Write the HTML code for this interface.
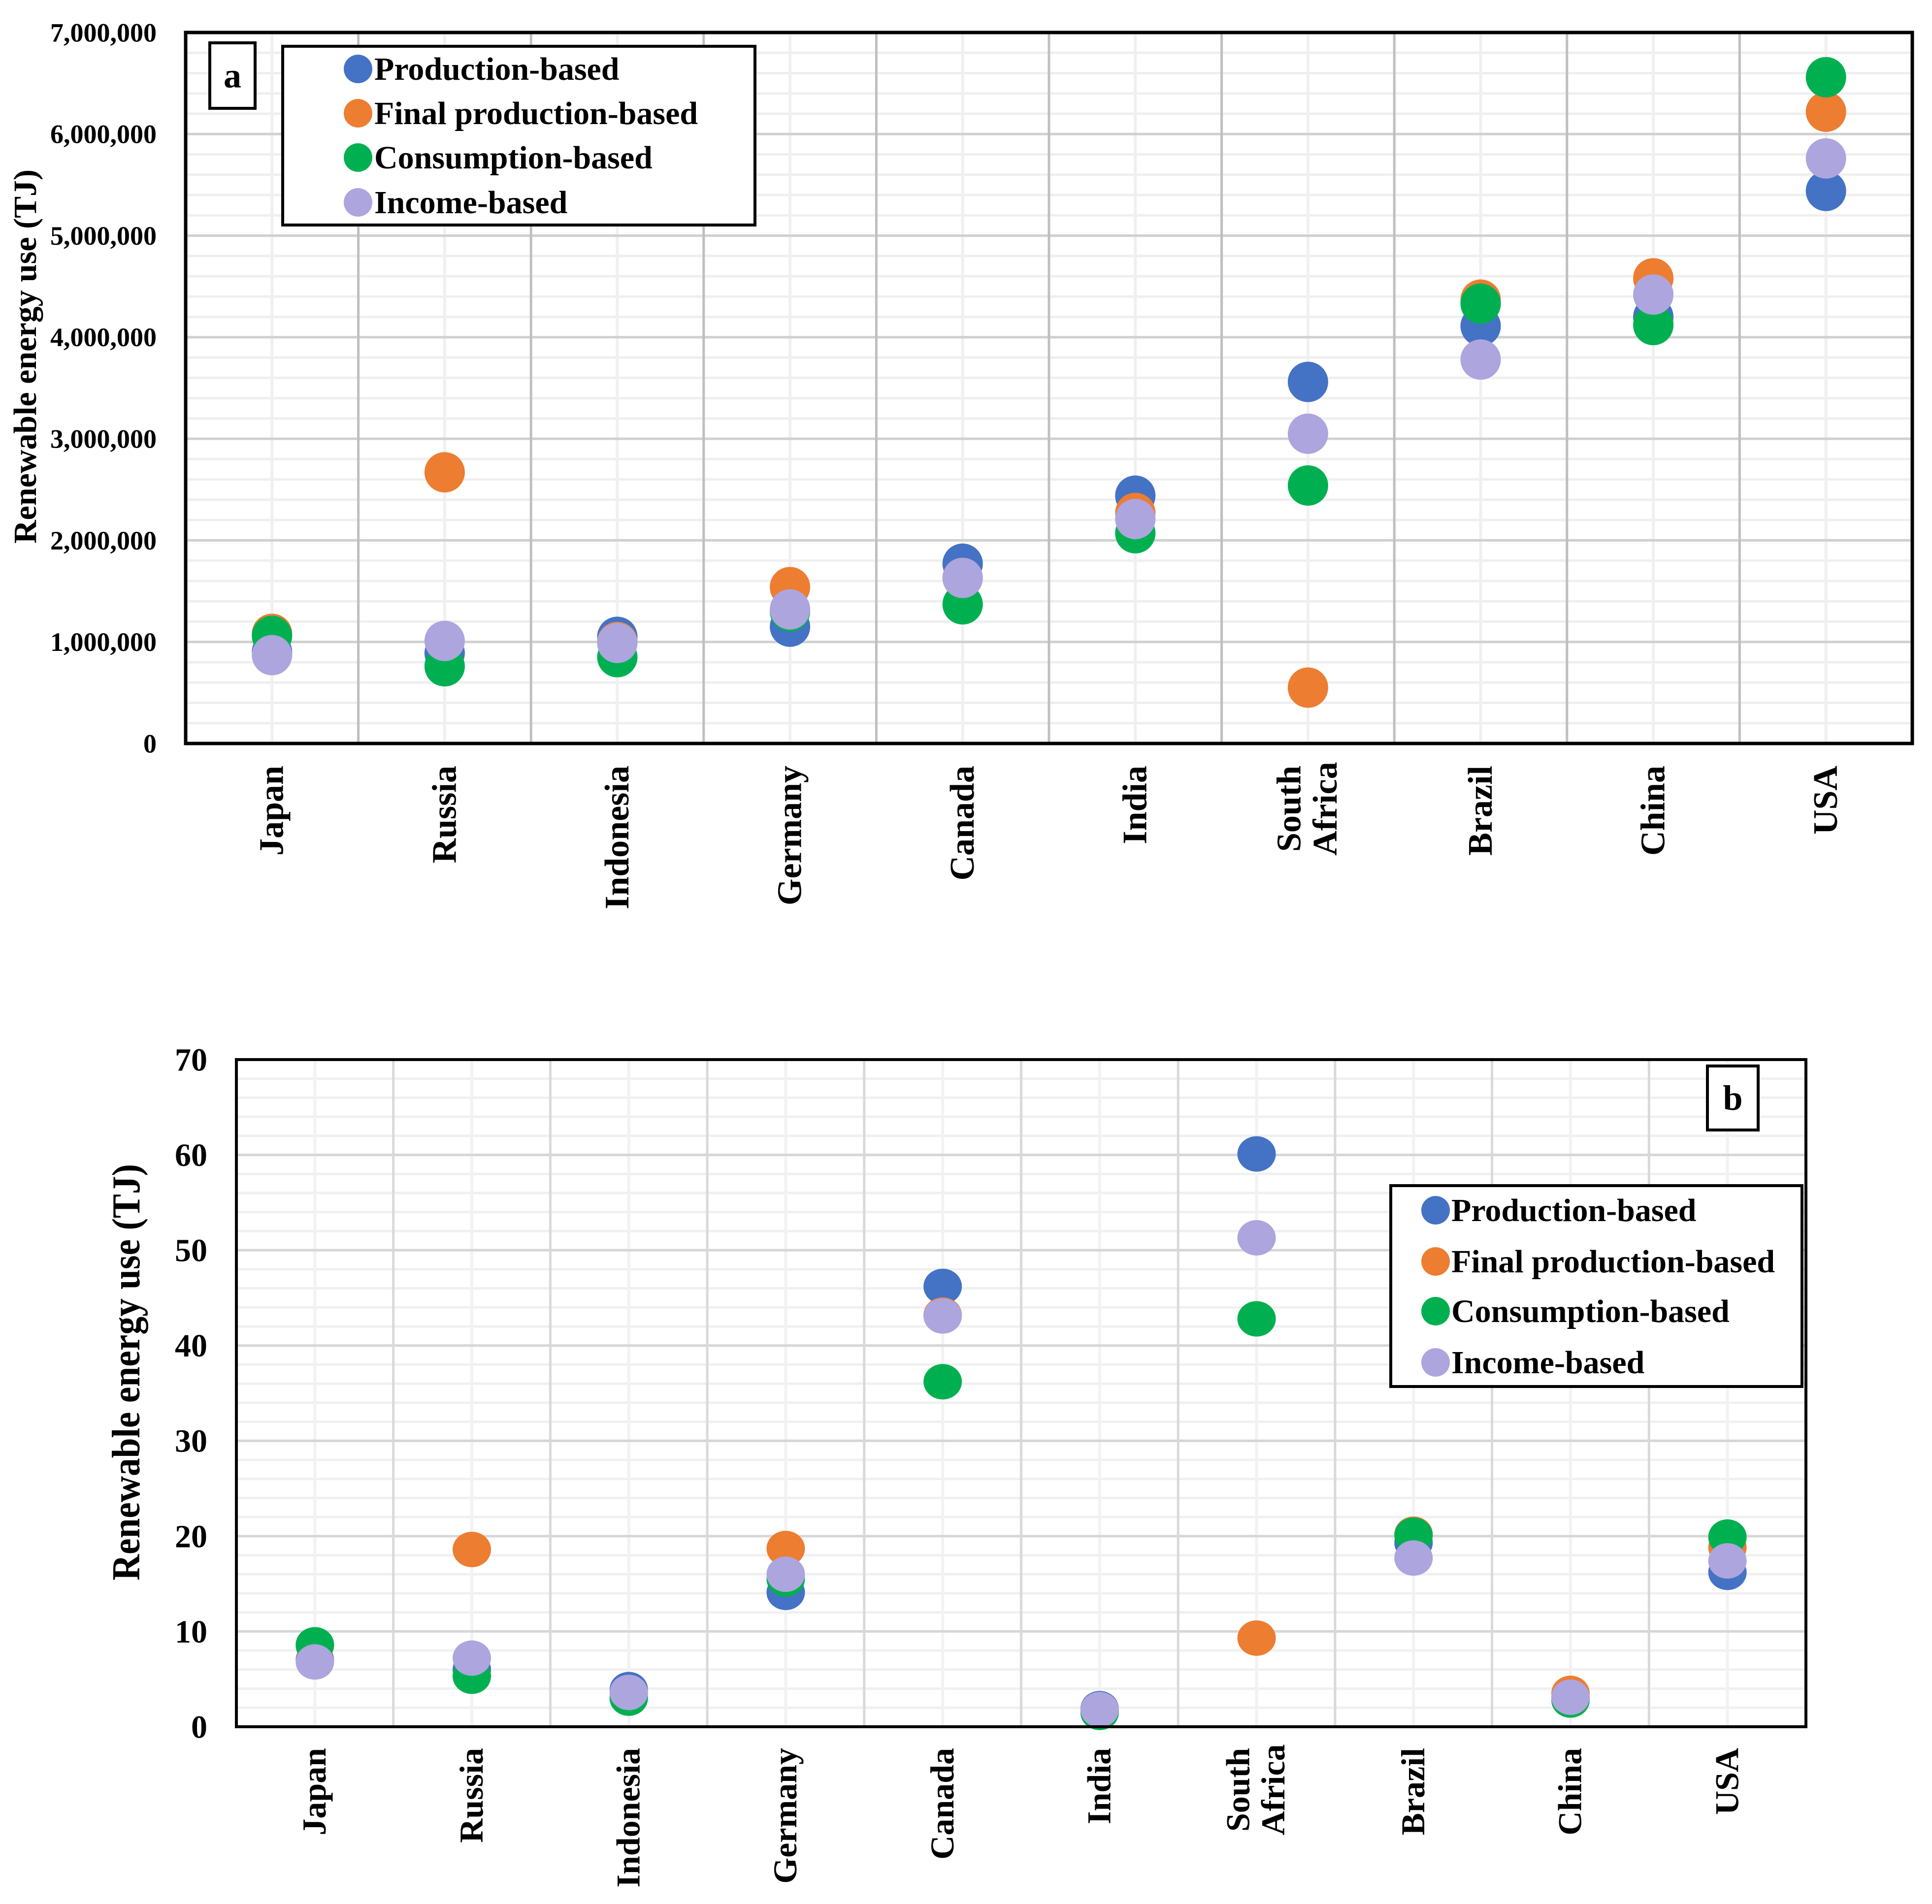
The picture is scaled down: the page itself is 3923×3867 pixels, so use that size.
<!DOCTYPE html>
<html><head><meta charset="utf-8"><style>
html,body{margin:0;padding:0;background:#fff}
svg{display:block}
text{font-family:"Liberation Serif","Times New Roman",serif;font-weight:bold;fill:#000}
</style></head><body>
<svg id="fig" xmlns="http://www.w3.org/2000/svg" width="3923" height="3867" viewBox="0 0 3923 3867">
<rect x="0" y="0" width="3923" height="3867" fill="#fff"/>
<g id="chartA"></g>
<g id="chartB"></g>
</svg>
<script>
const categories = ["Japan","Russia","Indonesia","Germany","Canada","India","South Africa","Brazil","China","USA"];
const seriesNames = ["Production-based","Final production-based","Consumption-based","Income-based"];
const seriesColors = ["#4472C4","#ED7D31","#00B050","#ADA5DE"];
// Chart a values (TJ)
const aProduction = [900000,890000,1050000,1150000,1770000,2440000,3560000,4110000,4200000,5440000];
const aFinalProduction = [1080000,2670000,1000000,1540000,1630000,2270000,550000,4370000,4580000,6220000];
const aConsumption = [1060000,760000,850000,1300000,1370000,2070000,2540000,4330000,4120000,6560000];
const aIncome = [870000,1010000,990000,1320000,1630000,2210000,3050000,3780000,4420000,5760000];
const aTicks = [0,1000000,2000000,3000000,4000000,5000000,6000000,7000000];
const aTickLabels = ["0","1,000,000","2,000,000","3,000,000","4,000,000","5,000,000","6,000,000","7,000,000"];
// Chart b values
const bProduction = [7.0,6.0,3.9,14.1,46.2,1.9,60.1,19.3,3.0,16.2];
const bFinalProduction = [8.5,18.6,3.5,18.7,43.2,1.7,9.3,20.2,3.5,18.8];
const bConsumption = [8.6,5.3,3.0,15.5,36.2,1.5,42.8,20.1,2.8,19.9];
const bIncome = [6.8,7.2,3.6,16.0,43.1,1.8,51.3,17.7,3.1,17.4];
const bTicks = [0,10,20,30,40,50,60,70];
const bTickLabels = ["0","10","20","30","40","50","60","70"];

const NS="http://www.w3.org/2000/svg";
function mk(parent,tag,attrs,txt){const e=document.createElementNS(NS,tag);for(const k in attrs)e.setAttribute(k,attrs[k]);if(txt!==undefined)e.textContent=txt;parent.appendChild(e);return e;}

function drawChart(g,cfg){
  const L=cfg.left,R=cfg.right,T=cfg.top,B=cfg.bottom,n=categories.length,cw=(R-L)/n;
  const xC=i=>L+cw*(i+0.5);
  const yS=v=>B-(v-cfg.min)/(cfg.max-cfg.min)*(B-T);
  for(let v=cfg.min;v<=cfg.max+1e-9;v+=cfg.minorStep){
    const ln=mk(g,'line',{x1:L,x2:R,y1:yS(v),y2:yS(v),stroke:cfg.minorColor,'stroke-width':5});
    
    
  }
  for(let i=0;i<n;i++){
    const ln=mk(g,'line',{x1:xC(i),x2:xC(i),y1:T,y2:B,stroke:cfg.centerColor,'stroke-width':6});
    
    
  }
  cfg.ticks.forEach((v,k)=>{
    const ln=mk(g,'line',{x1:L,x2:R,y1:yS(v),y2:yS(v),stroke:cfg.majorColor,'stroke-width':5});
    
    
    const t=mk(g,'text',{x:cfg.tickRight,y:yS(v)+cfg.tickFont*0.34,'text-anchor':'end','font-size':cfg.tickFont},cfg.tickLabels[k]);
    
    
  });
  for(let i=1;i<n;i++){
    const ln=mk(g,'line',{x1:L+cw*i,x2:L+cw*i,y1:T,y2:B,stroke:cfg.boundColor,'stroke-width':5});
    
    
  }
  cfg.series.forEach((vals,s)=>{
    vals.forEach((v,i)=>{
      const c=mk(g,'ellipse',{cx:xC(i),cy:yS(v),rx:cfg.rx,ry:cfg.ry,fill:seriesColors[s]});
      
      
    });
  });
  const fr=mk(g,'rect',{x:L,y:T,width:R-L,height:B-T,fill:'none',stroke:'#000','stroke-width':cfg.frameW});
  
  
  categories.forEach((c,i)=>{
    const x=xC(i);
    const parts=c.split(' ');
    if(parts.length===1){
      const t=mk(g,'text',{x:0,y:0,'text-anchor':'end','font-size':cfg.xFont,transform:`translate(${x+cfg.xFont*0.32},${cfg.xTop}) rotate(-90)`},c);
      
      
    }else{
      const mid=cfg.xTop+cfg.xFont*1.25;
      parts.forEach((p,j)=>{
        const off=j===0?-cfg.xFont*0.22:cfg.xFont*0.83;
        const t=mk(g,'text',{x:0,y:0,'text-anchor':'middle','font-size':cfg.xFont,transform:`translate(${x+off},${mid}) rotate(-90)`},p);
        
        
      });
    }
  });
  const yt=mk(g,'text',{x:0,y:0,'text-anchor':'middle','font-size':cfg.titleFont,textLength:cfg.titleLen,lengthAdjust:'spacingAndGlyphs',transform:`translate(${cfg.titleX},${cfg.titleY}) rotate(-90)`},'Renewable energy use (TJ)');
  
  
  const pb=mk(g,'rect',{x:cfg.pl[0],y:cfg.pl[1],width:cfg.pl[2],height:cfg.pl[3],fill:'#fff',stroke:'#000','stroke-width':6});
  
  
  const pt=mk(g,'text',{x:cfg.pl[0]+cfg.pl[2]/2,y:cfg.pl[1]+cfg.pl[3]/2+24,'text-anchor':'middle','font-size':72},cfg.plText);
  
  
  const lg=cfg.legend;
  const lb=mk(g,'rect',{x:lg.x,y:lg.y,width:lg.w,height:lg.h,fill:'#fff',stroke:'#000','stroke-width':6});
  
  
  seriesNames.forEach((s,k)=>{
    const cy=lg.rows[k];
    const m=mk(g,'circle',{cx:lg.mx,cy:cy,r:lg.r,fill:seriesColors[k]});
    
    
    const t=mk(g,'text',{x:lg.tx,y:cy+22,'font-size':66},s);
    
    
  });
}

drawChart(document.getElementById('chartA'),{
  left:377,right:3883,top:66,bottom:1510,min:0,max:7000000,minorStep:200000,
  ticks:aTicks,tickLabels:aTickLabels,tickRight:318,tickFont:54,
  minorColor:'#EFEFEF',majorColor:'#D0D0D0',centerColor:'#F0F0F0',boundColor:'#BFBFBF',
  series:[aProduction,aFinalProduction,aConsumption,aIncome],rx:41,ry:41,frameW:7,
  xFont:70,xTop:1555,titleFont:66,titleLen:760,titleX:73,titleY:724,
  pl:[426,87,92,133],plText:'a',
  legend:{x:574,y:94,w:959,h:363,mx:727,tx:760,r:29,rows:[140,230,320,411]}
});
drawChart(document.getElementById('chartB'),{
  left:480,right:3667,top:2152,bottom:3507,min:0,max:70,minorStep:2,
  ticks:bTicks,tickLabels:bTickLabels,tickRight:421,tickFont:66,
  minorColor:'#F0F0F0',majorColor:'#D6D6D6',centerColor:'#F2F2F2',boundColor:'#D9D9D9',
  series:[bProduction,bFinalProduction,bConsumption,bIncome],rx:39,ry:36,frameW:6,
  xFont:68,xTop:3550,titleFont:80,titleLen:846,titleX:283,titleY:2787,
  pl:[3467,2165,103,130],plText:'b',
  legend:{x:2824,y:2408,w:835,h:408,mx:2915,tx:2947,r:29,rows:[2458,2562,2663,2767]}
});
</script>
</body></html>
